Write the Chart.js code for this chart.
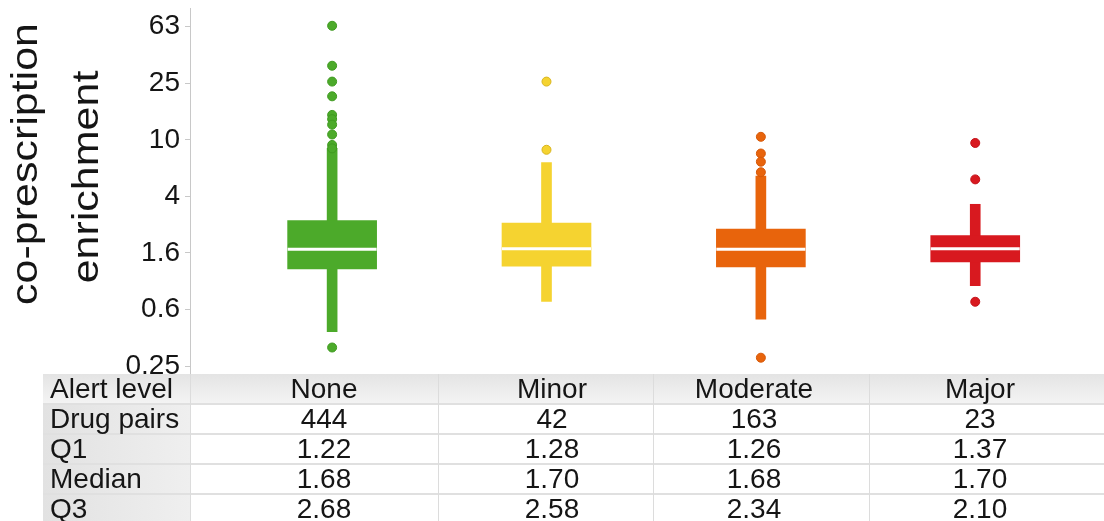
<!DOCTYPE html>
<html>
<head>
<meta charset="utf-8">
<script src="https://cdn.jsdelivr.net/npm/chart.js@4.4.1/dist/chart.umd.min.js"></script>
<style>
  html, body { margin: 0; padding: 0; background: #fff; }
  body { width: 1104px; height: 521px; position: relative; overflow: hidden;
         font-family: "Liberation Sans", Arial, sans-serif; color: #151515; }
  #chart { position: absolute; left: 0; top: 0; }
  .cell { position: absolute; height: 30px; line-height: 30px; font-size: 28px; white-space: nowrap; }
  .bg { position: absolute; }
</style>
</head>
<body>
<canvas id="chart" width="1104" height="375"></canvas>
<div id="table"></div>
<script>
// categories and summary stats (from the table under the plot)
const ALERT_LEVELS = ['None', 'Minor', 'Moderate', 'Major']
const DRUG_PAIRS = [444, 42, 163, 23]
const Q1 = [1.22, 1.28, 1.26, 1.37]
const MEDIAN = [1.68, 1.70, 1.68, 1.70]
const Q3 = [2.68, 2.58, 2.34, 2.10]

// whisker ends
const WHISKER_LOW = [0.44, 0.72, 0.54, 0.93]
const WHISKER_HIGH = [8.7, 6.9, 5.55, 3.5]

// outliers per alert level
const OUTLIERS_NONE = [64, 33.4, 25.8, 20.3, 15.0, 14.0, 12.8, 10.9, 9.2, 8.7, 0.34]
const OUTLIERS_MINOR = [25.8, 8.5]
const OUTLIERS_MODERATE = [10.5, 8.0, 7.0, 5.9, 0.288]
const OUTLIERS_MAJOR = [9.5, 5.25, 0.716]

// y axis
const Y_TICKS = [0.2512, 0.631, 1.585, 3.981, 10, 25.12, 63.1]
const Y_TICK_LABELS = ['0.25', '0.6', '1.6', '4', '10', '25', '63']
const Y_MIN = 0.2173
const Y_MAX = 85.5
const Y_TITLE = ['co-prescription', 'enrichment']

const COLORS = ['#4caa2a', '#f5d330', '#e8640c', '#d8191f']
const EDGE = ['#3f9a20', '#d8b41c', '#d65808', '#c4121a']
const FONT = '"Liberation Sans", Arial, sans-serif'

const outliers = [OUTLIERS_NONE, OUTLIERS_MINOR, OUTLIERS_MODERATE, OUTLIERS_MAJOR]
const outlierPts = []
const outlierFill = []
const outlierEdge = []
outliers.forEach((list, i) => {
    list.forEach(v => {
        outlierPts.push({ x: i, y: v })
        outlierFill.push(COLORS[i])
        outlierEdge.push(EDGE[i])
    })
})

// two-line y title, drawn a bit narrow like the original figure
const yTitle = {
    id: 'yTitle',
    afterDraw(chart) {
        const ctx = chart.ctx
        ctx.save()
        ctx.fillStyle = '#151515'
        ctx.font = '43px ' + FONT
        ctx.textAlign = 'center'
        const pos = [[37, 164], [98, 177]]
        Y_TITLE.forEach((t, i) => {
            ctx.save()
            ctx.translate(pos[i][0], pos[i][1])
            ctx.rotate(-Math.PI / 2)
            ctx.scale(1, 0.84)
            ctx.fillText(t, 0, 0)
            ctx.restore()
        })
        ctx.restore()
    }
}

const data = {
    datasets: [
        {
            type: 'bar',
            label: 'whisker',
            data: ALERT_LEVELS.map((_, i) => ({ x: i, y: [WHISKER_LOW[i], WHISKER_HIGH[i]] })),
            backgroundColor: COLORS,
            barThickness: 10,
            grouped: false,
            order: 3
        },
        {
            type: 'bar',
            label: 'box',
            data: ALERT_LEVELS.map((_, i) => ({ x: i, y: [Q1[i], Q3[i]] })),
            backgroundColor: COLORS,
            barThickness: 89,
            grouped: false,
            order: 2
        },
        {
            type: 'scatter',
            label: 'median',
            data: ALERT_LEVELS.map((_, i) => ({ x: i, y: MEDIAN[i] })),
            pointStyle: 'line',
            pointRadius: 44.5,
            borderColor: '#ffffff',
            borderWidth: 3,
            order: 1
        },
        {
            type: 'scatter',
            label: 'outliers',
            data: outlierPts,
            pointRadius: 4.5,
            pointBackgroundColor: outlierFill,
            pointBorderColor: outlierEdge,
            pointBorderWidth: 1,
            order: 0
        }
    ]
}

const config = {
    type: 'bar',
    data: data,
    plugins: [yTitle],
    options: {
        responsive: false,
        animation: false,
        events: [],
        layout: { autoPadding: false, padding: { top: 8, right: 4, left: 0, bottom: 0 } },
        plugins: {
            legend: { display: false },
            tooltip: { enabled: false }
        },
        scales: {
            x: {
                type: 'linear',
                display: false,
                offset: false,
                min: -0.663,
                max: 3.582
            },
            y: {
                type: 'logarithmic',
                min: Y_MIN,
                max: Y_MAX,
                afterBuildTicks: s => { s.ticks = Y_TICKS.map(v => ({ value: v })) },
                afterFit: s => { s.width = 190; s.paddingTop = 0; s.paddingBottom = 0 },
                ticks: {
                    autoSkip: false,
                    padding: 5,
                    color: '#151515',
                    font: { size: 28, family: FONT },
                    callback: (v, i) => Y_TICK_LABELS[i]
                },
                grid: { drawOnChartArea: false, tickLength: 5, color: '#c8c8c8' },
                border: { color: '#c8c8c8', width: 1 }
            }
        }
    }
}

new Chart(document.getElementById('chart'), config)

// table under the plot
const rows = [
    ['Alert level', ...ALERT_LEVELS],
    ['Drug pairs', ...DRUG_PAIRS.map(String)],
    ['Q1', ...Q1.map(v => v.toFixed(2))],
    ['Median', ...MEDIAN.map(v => v.toFixed(2))],
    ['Q3', ...Q3.map(v => v.toFixed(2))]
]
const tableTop = 374
const rowH = 30
const tableLeft = 43
const colEdges = [190, 438, 653, 869, 1117]
const textCenters = [324, 552, 754, 980]
const host = document.getElementById('table')

function box(x, y, w, h, bg) {
    const d = document.createElement('div')
    d.className = 'bg'
    d.style.left = x + 'px'
    d.style.top = y + 'px'
    d.style.width = w + 'px'
    d.style.height = h + 'px'
    d.style.background = bg
    host.appendChild(d)
}

box(tableLeft, tableTop, 1104 - tableLeft, rowH, 'linear-gradient(#e4e4e4, #f4f4f4)')
for (let r = 1; r < rows.length; r++) {
    box(tableLeft, tableTop + r * rowH, colEdges[0] - tableLeft, rowH, 'linear-gradient(to right, #e2e2e2, #efefef)')
}
for (let r = 1; r < rows.length; r++) {
    box(tableLeft, tableTop + r * rowH - 1, 1104 - tableLeft, 2, '#e0e0e0')
}
colEdges.slice(0, 4).forEach(x => box(x, tableTop, 1, 521 - tableTop, '#dcdcdc'))

rows.forEach((row, r) => {
    row.forEach((txt, c) => {
        const d = document.createElement('div')
        d.className = 'cell'
        d.textContent = txt
        d.style.top = (tableTop + r * rowH) + 'px'
        if (c === 0) {
            d.style.left = (tableLeft + 7) + 'px'
        } else {
            d.style.left = (textCenters[c - 1] - 100) + 'px'
            d.style.width = '200px'
            d.style.textAlign = 'center'
        }
        host.appendChild(d)
    })
})
</script>
</body>
</html>
